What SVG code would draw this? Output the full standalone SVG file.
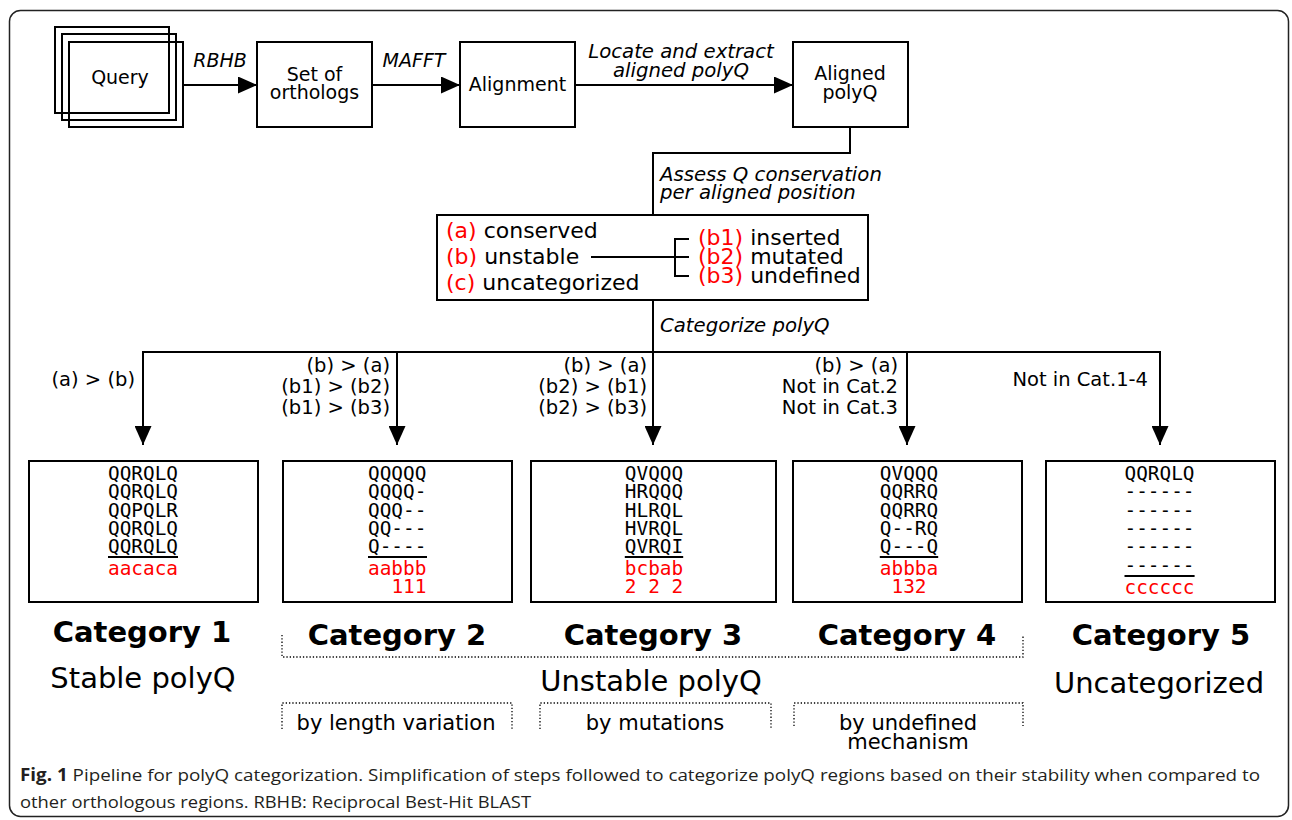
<svg xmlns="http://www.w3.org/2000/svg" width="1292" height="820" viewBox="0 0 1292 820">
<style>
  .box { fill: #fff; stroke: #000; stroke-width: 2; }
  .ob { fill: none; stroke: #000; stroke-width: 2; }
  .ln { fill: none; stroke: #000; stroke-width: 2; }
  .dot { fill: none; stroke: #000; stroke-width: 1.3; stroke-dasharray: 1.3 2; }
  .t { font-family: "DejaVu Sans", sans-serif; fill: #000; }
  .n { font-size: 19px; text-anchor: middle; }
  .it { font-style: italic; font-size: 19.7px; }
  .lbl { font-size: 19.5px; text-anchor: end; }
  .cat { font-size: 22px; }
  .seq { font-family: "DejaVu Sans Mono", monospace; font-size: 19.4px; fill: #000; }
  .red, .seq.red { fill: #ff0000; }
  .ch { font-size: 29px; font-weight: bold; text-anchor: middle; }
  .big { font-size: 29px; text-anchor: middle; }
  .sub { font-size: 21px; text-anchor: middle; }
  .cap { font-family: "Open Sans", "Liberation Sans", sans-serif; font-size: 17px; fill: #231f20; }
</style>
<defs>
  <marker id="ah" markerWidth="19" markerHeight="17" refX="19" refY="8.5" orient="auto" markerUnits="userSpaceOnUse">
    <path d="M0,0 L19,8.5 L0,17 Z" fill="#000"/>
  </marker>
</defs>
<rect x="9.5" y="10.5" width="1279" height="806" rx="11" fill="#fff" stroke="#222" stroke-width="1.5"/>

<g id="query">
  <rect class="ob" x="55" y="27" width="114" height="86"/>
  <rect class="ob" x="62" y="34" width="114" height="86"/>
  <rect class="ob" x="69" y="42" width="114" height="85"/>
  <text class="t n" x="120" y="84">Query</text>
</g>
<g id="orthologs">
  <rect class="box" x="257" y="42" width="115" height="85"/>
  <text class="t n" x="314.5" y="81">Set of</text>
  <text class="t n" x="314.5" y="99">orthologs</text>
</g>
<g id="alignment">
  <rect class="box" x="460" y="42" width="115" height="85"/>
  <text class="t n" x="517.5" y="91">Alignment</text>
</g>
<g id="aligned-polyq">
  <rect class="box" x="793" y="42" width="115" height="85"/>
  <text class="t n" x="850" y="80">Aligned</text>
  <text class="t n" x="850" y="99">polyQ</text>
</g>
<g id="classes">
  <rect class="box" x="437" y="215" width="431" height="85"/>
  <text class="t cat" x="446" y="238"><tspan class="red">(a)</tspan> conserved</text>
  <text class="t cat" x="446" y="264"><tspan class="red">(b)</tspan> unstable</text>
  <text class="t cat" x="446" y="290"><tspan class="red">(c)</tspan> uncategorized</text>
  <path class="ln" d="M591,257 H675 M689,239 H675 V276 H689 M675,257 H689"/>
  <text class="t cat" x="698" y="245"><tspan class="red">(b1)</tspan> inserted</text>
  <text class="t cat" x="698" y="264"><tspan class="red">(b2)</tspan> mutated</text>
  <text class="t cat" x="698" y="283"><tspan class="red">(b3)</tspan> undefined</text>
</g>

<g id="connectors">
  <line class="ln" x1="183" y1="85" x2="257" y2="85" marker-end="url(#ah)"/>
  <line class="ln" x1="372" y1="85" x2="460" y2="85" marker-end="url(#ah)"/>
  <line class="ln" x1="575" y1="85" x2="793" y2="85" marker-end="url(#ah)"/>
  <path class="ln" d="M850,127 V153 H653 V215"/>
  <path class="ln" d="M653,300 V352 M143,352 H1160"/>
  <line class="ln" x1="143" y1="351" x2="143" y2="445" marker-end="url(#ah)"/>
  <line class="ln" x1="397" y1="351" x2="397" y2="445" marker-end="url(#ah)"/>
  <line class="ln" x1="653" y1="351" x2="653" y2="445" marker-end="url(#ah)"/>
  <line class="ln" x1="907" y1="351" x2="907" y2="445" marker-end="url(#ah)"/>
  <line class="ln" x1="1160" y1="351" x2="1160" y2="445" marker-end="url(#ah)"/>
  <text class="t it" x="220" y="67" text-anchor="middle" style="font-size:19px">RBHB</text>
  <text class="t it" x="414" y="67" text-anchor="middle" style="font-size:19px">MAFFT</text>
  <text class="t it" x="681" y="58" text-anchor="middle">Locate and extract</text>
  <text class="t it" x="681" y="77" text-anchor="middle">aligned polyQ</text>
  <text class="t it" x="660" y="181">Assess Q conservation</text>
  <text class="t it" x="660" y="199">per aligned position</text>
  <text class="t it" x="660" y="332">Categorize polyQ</text>
  <text class="t lbl" x="135" y="386">(a) &gt; (b)</text>
  <text class="t lbl" x="390" y="372">(b) &gt; (a)</text>
  <text class="t lbl" x="390" y="393">(b1) &gt; (b2)</text>
  <text class="t lbl" x="390" y="414">(b1) &gt; (b3)</text>
  <text class="t lbl" x="647" y="372">(b) &gt; (a)</text>
  <text class="t lbl" x="647" y="393">(b2) &gt; (b1)</text>
  <text class="t lbl" x="647" y="414">(b2) &gt; (b3)</text>
  <text class="t lbl" x="898" y="372">(b) &gt; (a)</text>
  <text class="t lbl" x="898" y="393">Not in Cat.2</text>
  <text class="t lbl" x="898" y="414">Not in Cat.3</text>
  <text class="t lbl" x="1148" y="386">Not in Cat.1-4</text>
</g>

<g id="cat1">
  <rect class="box" x="29" y="461" width="229" height="141"/>
  <text class="seq" x="108" y="480">QQRQLQ</text>
  <text class="seq" x="108" y="498.3">QQRQLQ</text>
  <text class="seq" x="108" y="516.6">QQPQLR</text>
  <text class="seq" x="108" y="535">QQRQLQ</text>
  <text class="seq" x="108" y="553.3">QQRQLQ</text>
  <line class="ln" x1="108" y1="557" x2="178" y2="557"/>
  <text class="seq red" x="108" y="575">aacaca</text>
  <text class="t ch" x="142" y="642">Category 1</text>
  <text class="t big" x="143" y="688">Stable polyQ</text>
</g>
<g id="cat2">
  <rect class="box" x="283" y="461" width="229" height="141"/>
  <text class="seq" x="368" y="480">QQQQQ</text>
  <text class="seq" x="368" y="498.3">QQQQ-</text>
  <text class="seq" x="368" y="516.6">QQQ--</text>
  <text class="seq" x="368" y="535">QQ---</text>
  <text class="seq" x="368" y="553.3">Q----</text>
  <line class="ln" x1="368" y1="557" x2="427" y2="557"/>
  <text class="seq red" x="368" y="575">aabbb</text>
  <text class="seq red" x="391.4" y="593">111</text>
  <text class="t ch" x="397" y="645">Category 2</text>
</g>
<g id="cat3">
  <rect class="box" x="531" y="461" width="245" height="141"/>
  <text class="seq" x="624.8" y="480">QVQQQ</text>
  <text class="seq" x="624.8" y="498.3">HRQQQ</text>
  <text class="seq" x="624.8" y="516.6">HLRQL</text>
  <text class="seq" x="624.8" y="535">HVRQL</text>
  <text class="seq" x="624.8" y="553.3">QVRQI</text>
  <line class="ln" x1="624.8" y1="557" x2="683.2" y2="557"/>
  <text class="seq red" x="624.8" y="575">bcbab</text>
  <text class="seq red" x="624.8" y="593" xml:space="preserve">2 2 2</text>
  <text class="t ch" x="653" y="645">Category 3</text>
</g>
<g id="cat4">
  <rect class="box" x="793" y="461" width="229" height="141"/>
  <text class="seq" x="879.8" y="480">QVQQQ</text>
  <text class="seq" x="879.8" y="498.3">QQRRQ</text>
  <text class="seq" x="879.8" y="516.6">QQRRQ</text>
  <text class="seq" x="879.8" y="535">Q--RQ</text>
  <text class="seq" x="879.8" y="553.3">Q---Q</text>
  <line class="ln" x1="879.8" y1="557" x2="938.2" y2="557"/>
  <text class="seq red" x="879.8" y="575">abbba</text>
  <text class="seq red" x="891.5" y="593">132</text>
  <text class="t ch" x="907" y="645">Category 4</text>
</g>
<g id="cat5">
  <rect class="box" x="1046" y="461" width="229" height="141"/>
  <text class="seq" x="1124.5" y="480">QQRQLQ</text>
  <text class="seq" x="1124.5" y="498.3">------</text>
  <text class="seq" x="1124.5" y="516.6">------</text>
  <text class="seq" x="1124.5" y="535">------</text>
  <text class="seq" x="1124.5" y="553.3">------</text>
  <text class="seq" x="1124.5" y="571.6">------</text>
  <line class="ln" x1="1124.5" y1="576" x2="1194.6" y2="576"/>
  <text class="seq red" x="1124.5" y="594">cccccc</text>
  <text class="t ch" x="1161" y="645">Category 5</text>
  <text class="t big" x="1159" y="693">Uncategorized</text>
</g>

<g id="unstable-group">
  <path class="dot" d="M282,635 V657 H1023 V635"/>
  <text class="t big" x="651" y="691">Unstable polyQ</text>
  <path class="dot" d="M282,729 V703 H512 V729"/>
  <text class="t sub" x="396" y="730">by length variation</text>
  <path class="dot" d="M540,729 V703 H771 V729"/>
  <text class="t sub" x="655" y="730">by mutations</text>
  <path class="dot" d="M794,726 V703 H1023 V726"/>
  <text class="t sub" x="908" y="730">by undefined</text>
  <text class="t sub" x="908" y="749">mechanism</text>
</g>

<g id="caption">
  <text class="cap" x="20" y="781" textLength="1240" lengthAdjust="spacingAndGlyphs"><tspan font-weight="bold">Fig. 1</tspan> Pipeline for polyQ categorization. Simplification of steps followed to categorize polyQ regions based on their stability when compared to</text>
  <text class="cap" x="20" y="808" textLength="511" lengthAdjust="spacingAndGlyphs">other orthologous regions. RBHB: Reciprocal Best-Hit BLAST</text>
</g>
</svg>
